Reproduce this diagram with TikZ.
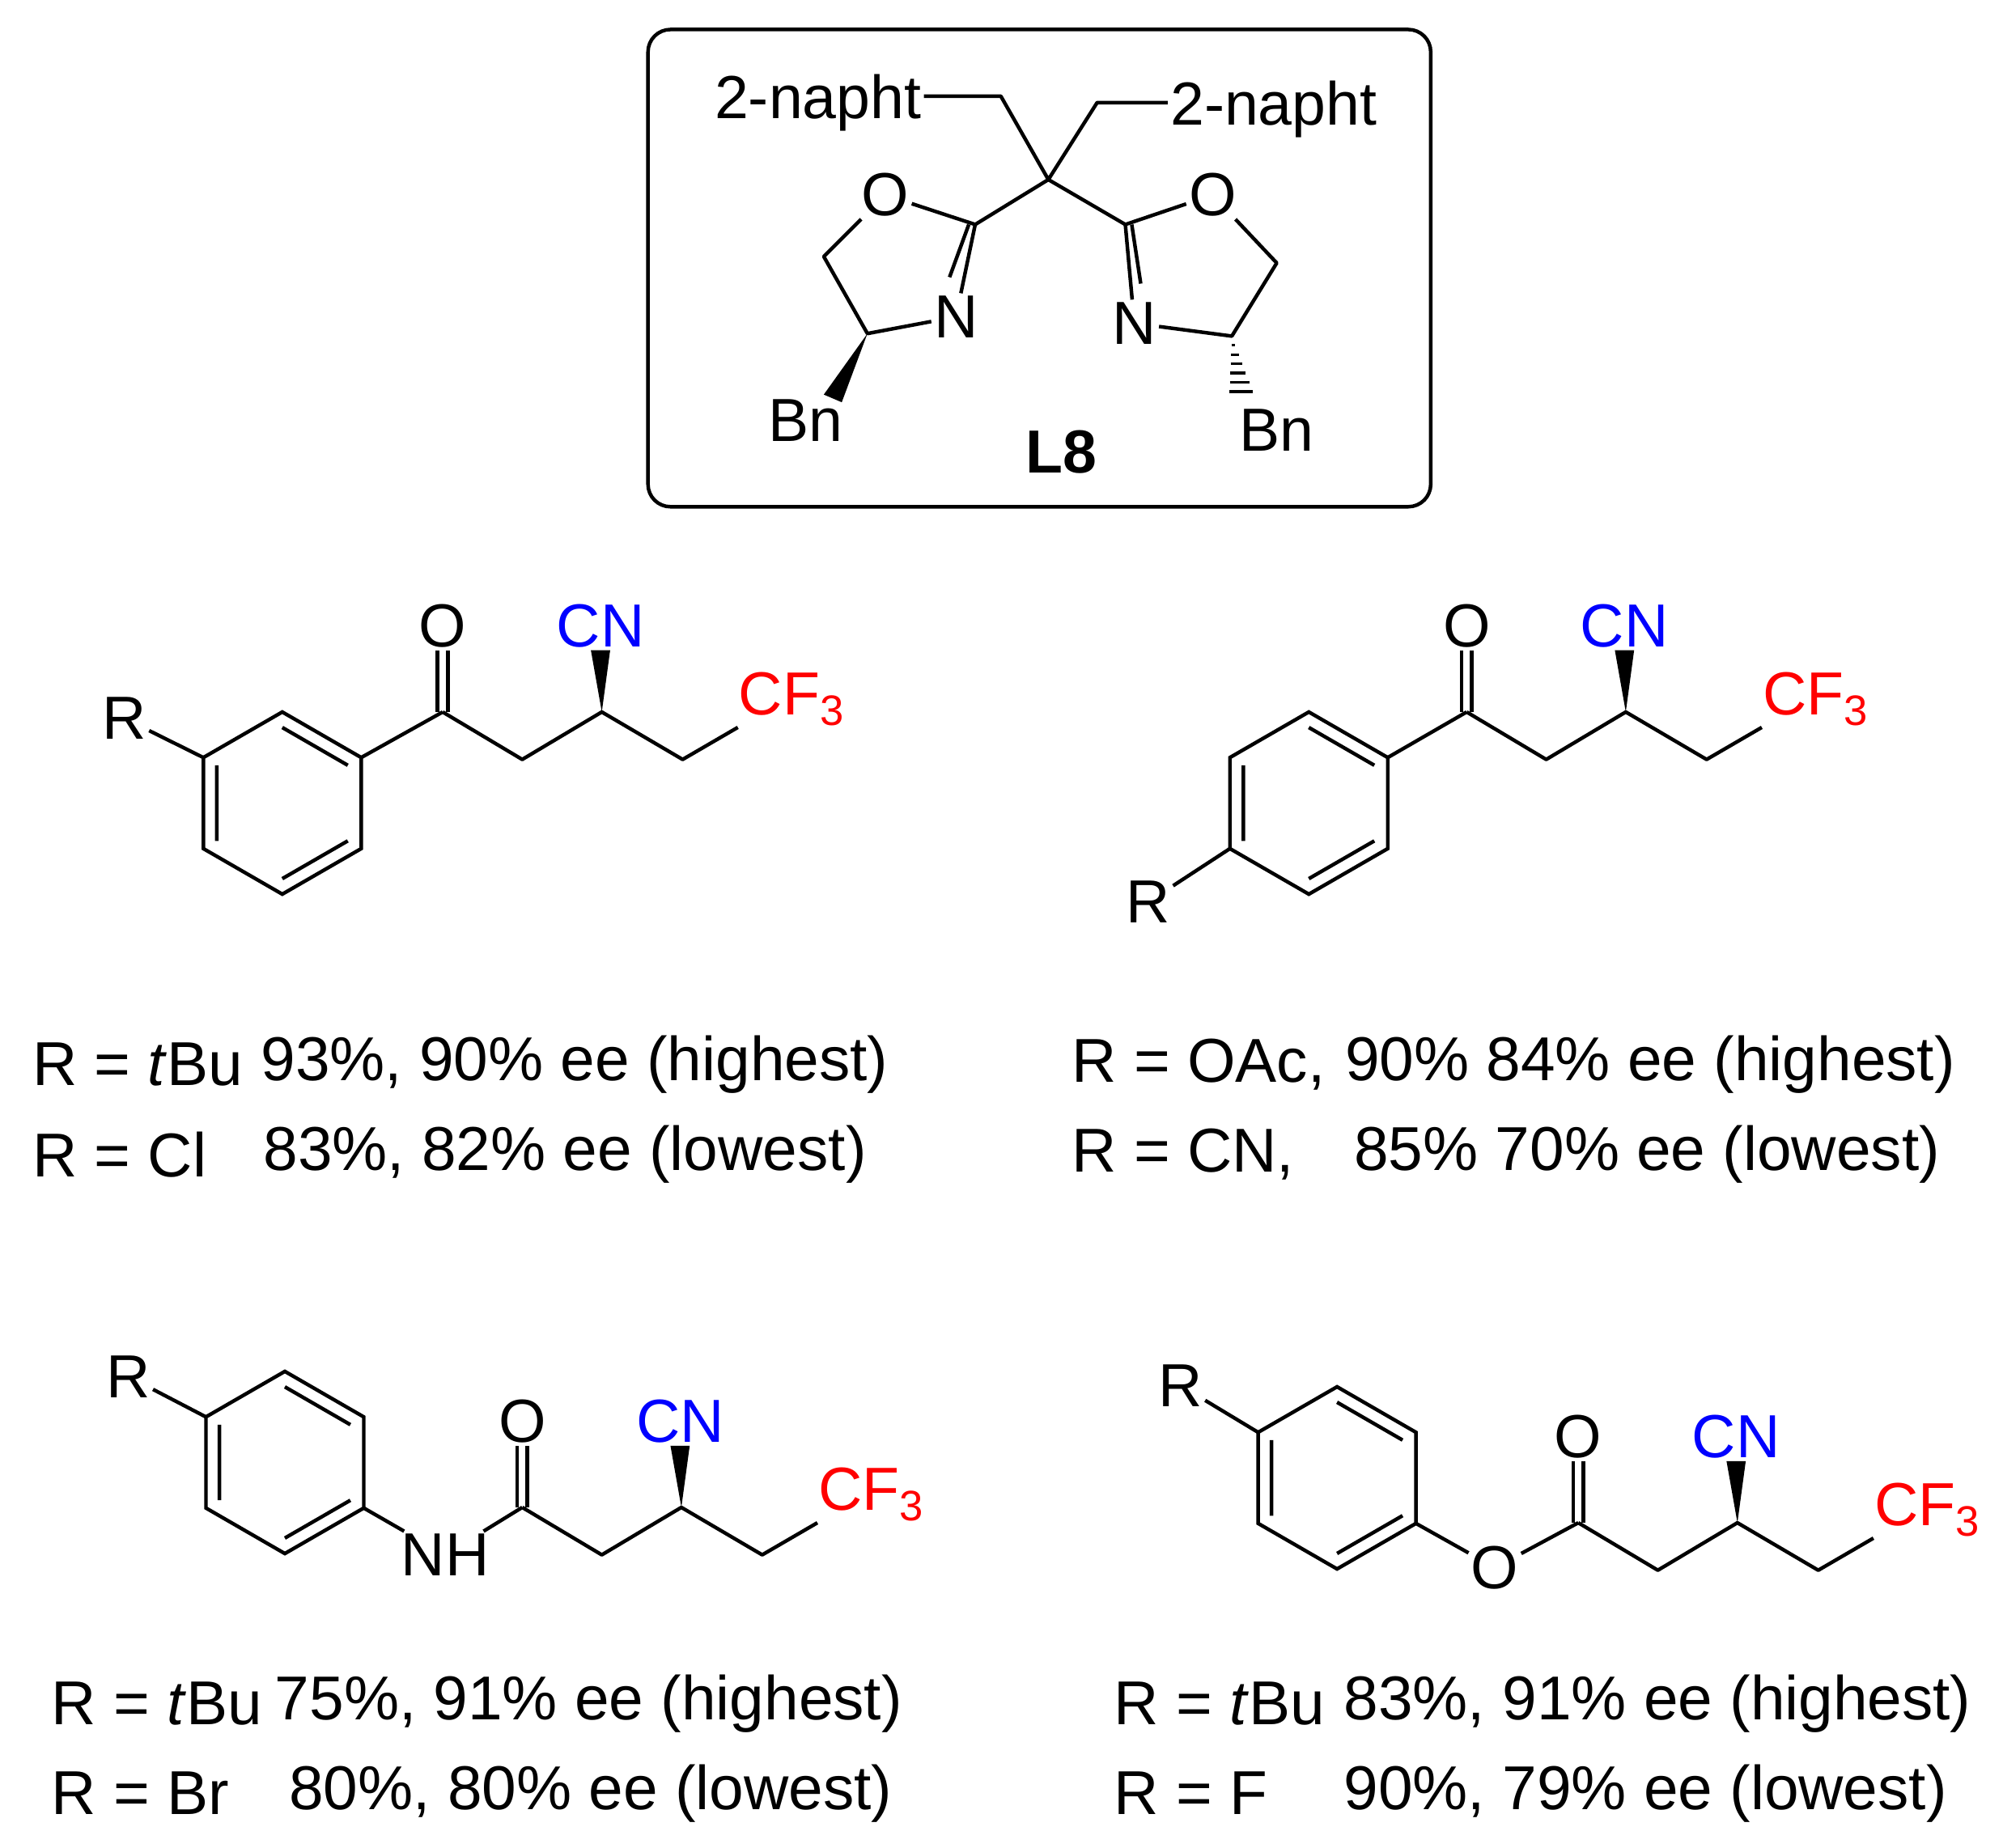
\documentclass[tikz,border=0pt]{standalone}
\usepackage{fontspec}
\setmainfont{Liberation Sans}
\usetikzlibrary{calc}
\tikzset{atom/.style={inner sep=1pt,font=\fontsize{27}{31}\selectfont},
 txt/.style={inner sep=0pt,anchor=west,font=\fontsize{27.5}{31}\selectfont},
 bond/.style={line width=1.6pt}}
\newcommand\ring{%
 \coordinate (t) at (0,-71); \coordinate (ur) at (61.5,-35.5); \coordinate (lr) at (61.5,35.5);
 \coordinate (b) at (0,71); \coordinate (ll) at (-61.5,35.5); \coordinate (ul) at (-61.5,-35.5);
 \coordinate (ctr) at (0,0);
 \draw[bond] (t)--(ur)--(lr)--(b)--(ll)--(ul)--cycle;
 \draw[bond] ($(t)!0.17!(ctr)$)--($(ur)!0.17!(ctr)$) ($(lr)!0.17!(ctr)$)--($(b)!0.17!(ctr)$) ($(ll)!0.17!(ctr)$)--($(ul)!0.17!(ctr)$);
}
\newcommand\chain{%
 \coordinate (c1) at (0,0); \node[atom] (o) at (0,-67) {O};
 \coordinate (c2) at (62,37); \coordinate (c3) at (124,0);
 \node[atom,blue] (cn) at (123,-67) {CN};
 \coordinate (c4) at (187,37); \coordinate (c5) at (230,12);
 \node[atom,red] (cf) at (272,-10) {CF\textsubscript{3}};
 \draw[bond,line join=round] (c1)--(c2)--(c3)--(c4)--(c5);
 \draw[bond] ([xshift=-0.08cm]c1)--([xshift=-0.08cm]o.south) ([xshift=0.08cm]c1)--([xshift=0.08cm]o.south);
 \fill (c3)--([xshift=-0.15cm]cn.south)--([xshift=0.15cm]cn.south)--cycle;
}
\begin{document}
\begin{tikzpicture}[x=0.02cm,y=-0.02cm]
\useasboundingbox (0,0) rectangle (1561,1440);
% box
\draw[line width=1.6pt,rounded corners=0.35cm] (505,23) rectangle (1115,395);
% L8
\coordinate (q) at (817,140);
\node[atom,anchor=east] (nl) at (720,80) {2-napht};
\node[atom,anchor=west] (nr) at (910,85) {2-napht};
\coordinate (ml) at (780,75); \coordinate (mr) at (855,80);
\draw[bond,line join=round] (nl.east|-ml)--(ml)--(q)--(mr)--(nr.west|-mr);
\coordinate (a2) at (760,175); \node[atom] (ao) at (690,152) {O};
\coordinate (a5) at (642,200); \coordinate (a4) at (676,260); \node[atom] (an) at (745,247) {N};
\draw[bond,line join=round] (q)--(a2)--(ao)--(a5)--(a4)--(an);
\draw[bond] (a2)--(an);
\draw[bond] ([xshift=-0.1cm]a2)--([xshift=-0.1cm,yshift=0.25cm]an.north);
\node[atom] (abn) at (628,328) {Bn};
\fill (a4)--($(abn.north)+(14,-2)$)--($(abn.north)+(28,4)$)--cycle;
\coordinate (b2) at (877,175); \node[atom] (bo) at (945,152) {O};
\coordinate (b5) at (995,205); \coordinate (b4) at (960,262); \node[atom] (bn) at (884,252) {N};
\draw[bond,line join=round] (q)--(b2)--(bo)--(b5)--(b4)--(bn);
\draw[bond] (b2)--(bn);
\draw[bond] ([xshift=0.1cm]b2)--([xshift=0.1cm,yshift=0.25cm]bn.north);
\node[atom] (bbn) at (995,335) {Bn};
\foreach \i in {0.15,0.3,...,1}{\draw[line width=1.2pt] ($(b4)!\i!(968,310)+(-\i*10,0)$)--($(b4)!\i!(968,310)+(\i*10,0)$);}
\node[font=\fontsize{27}{31}\selectfont\bfseries] (l8) at (827,352) {L8};
% molecule 1
\begin{scope}[shift={(220,626)}]\ring\end{scope}
\begin{scope}[shift={(345,555)}]\chain\end{scope}
\draw[bond] (ur)--(345,555);
\node[atom] (r1) at (97,560) {R}; \draw[bond] (r1)--(158.5,590.5);
% molecule 2
\begin{scope}[shift={(1020,626)}]\ring\end{scope}
\draw[bond] (ur)--(1143,555);
\begin{scope}[shift={(1143,555)}]\chain\end{scope}
\node[atom] (r2) at (895,703) {R}; \draw[bond] (r2)--(958.5,661.5);
% molecule 3
\begin{scope}[shift={(222,1140)}]\ring\end{scope}
\node[atom] (nh) at (347,1212) {NH};
\draw[bond] (lr)--(nh); \draw[bond] (nh)--(407,1175);
\node[atom] (r3) at (100,1073) {R}; \draw[bond] (r3)--(ul);
\begin{scope}[shift={(407,1175)}]\chain\end{scope}
% molecule 4
\begin{scope}[shift={(1042,1152)}]\ring\end{scope}
\node[atom] (o4) at (1165,1222) {O};
\draw[bond] (lr)--(o4); \draw[bond] (o4)--(1230,1187);
\node[atom] (r4) at (920,1080) {R}; \draw[bond] (r4)--(ul);
\begin{scope}[shift={(1230,1187)}]\chain\end{scope}
% texts
\node[txt] (t1) at (25,830) {R = \textit{t}Bu};
\node[txt] (t1b) at (203,830) {93\%, 90\% ee (highest)};
\node[txt] (t2) at (25,900) {R = Cl};
\node[txt] (t2b) at (205,900) {83\%, 82\% ee (lowest)};
\node[txt] (t3) at (835,830) {R = OAc,};
\node[txt] (t3b) at (1048,830) {90\% 84\% ee (highest)};
\node[txt] (t4) at (835,900) {R = CN,};
\node[txt] (t4b) at (1055,900) {85\% 70\% ee (lowest)};
\node[txt] (t5) at (40,1328) {R = \textit{t}Bu};
\node[txt] (t5b) at (214,1328) {75\%, 91\% ee (highest)};
\node[txt] (t6) at (40,1398) {R = Br};
\node[txt] (t6b) at (225,1398) {80\%, 80\% ee (lowest)};
\node[txt] (t7) at (868,1328) {R = \textit{t}Bu};
\node[txt] (t7b) at (1047,1328) {83\%, 91\% ee (highest)};
\node[txt] (t8) at (868,1398) {R = F};
\node[txt] (t8b) at (1047,1398) {90\%, 79\% ee (lowest)};
\end{tikzpicture}
\end{document}
